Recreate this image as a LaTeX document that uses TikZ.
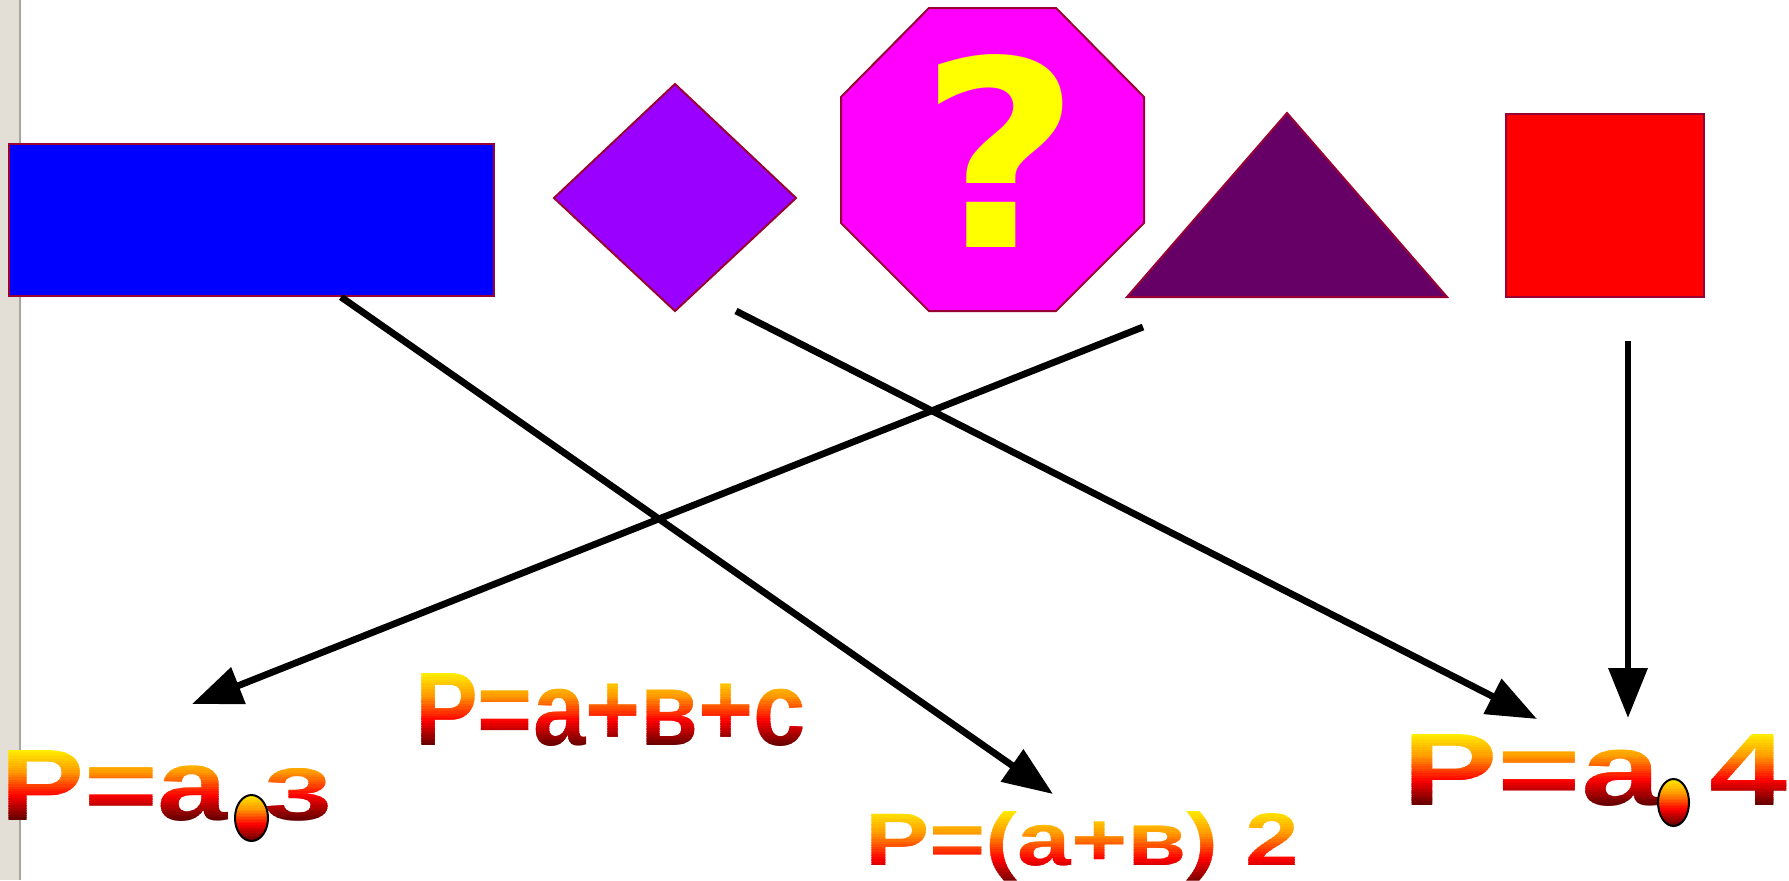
\documentclass[tikz,border=0pt]{standalone}
\usepackage{fontspec}
\usepackage{graphicx}
\newfontfamily\arialfont{Liberation Sans}
\newfontfamily\dvfont{DejaVu Sans}
\usetikzlibrary{arrows.meta}
\definecolor{gyel}{HTML}{FFF200}
\definecolor{gora}{HTML}{FF9900}
\definecolor{gred}{HTML}{FF0000}
\definecolor{gdk}{HTML}{660000}
\definecolor{edgec}{HTML}{990033}
\definecolor{stripc}{HTML}{E3DFD6}
\definecolor{stripl}{HTML}{A9A59D}
\definecolor{rectc}{HTML}{0000FF}
\definecolor{diamc}{HTML}{9900FF}
\definecolor{octc}{HTML}{FF00FF}
\definecolor{tric}{HTML}{660066}
\definecolor{sqc}{HTML}{FF0000}
\definecolor{qc}{HTML}{FFFF00}
\newdimen\pxu \pxu=0.5pt
\newcommand\nbands{30}
\newcommand\gradcolor[1]{%
  \ifdim #1pt<33pt
    \pgfmathtruncatemacro\pp{100-#1/33*100}\colorlet{gc}{gyel!\pp!gora}%
  \else\ifdim #1pt<66pt
    \pgfmathtruncatemacro\pp{100-(#1-33)/33*100}\colorlet{gc}{gora!\pp!gred}%
  \else
    \pgfmathtruncatemacro\pp{100-(#1-66)/34*100}\colorlet{gc}{gred!\pp!gdk}%
  \fi\fi}
\newcommand\gradbands[3]{%
  \foreach \i in {0,...,29}{%
    \pgfmathsetmacro\ya{\i==0 ? #1-200 : #1+(#2-#1)*\i/\nbands-0.3}%
    \pgfmathsetmacro\yb{\i==29 ? #2+200 : #1+(#2-#1)*(\i+1)/\nbands+0.3}%
    \pgfmathsetmacro\gt{(\i+0.5)/\nbands*100}%
    \gradcolor{\gt}%
    \begin{scope}
      \clip (-50,\ya) rectangle (1850,\yb);
      #3
    \end{scope}
  }%
}
\begin{document}
\begin{tikzpicture}[x=0.5pt,y=-0.5pt,
  shp/.style={draw=edgec, line width=1pt, line join=miter},
  arr/.style={line width=3.4pt, -{Triangle[length=25pt,width=19pt]}},
  gtext/.style={anchor=base west, inner sep=0pt, outer sep=0pt, text=gc, font=\arialfont\bfseries},
  dotline/.style={draw=black, line width=1pt}]
\useasboundingbox (0,0) rectangle (1789,880);
\fill[white] (0,0) rectangle (1789,880);
\fill[stripc] (0,0) rectangle (19,880);
\fill[stripl] (19,0) rectangle (21,880);
% shapes
\draw[shp, fill=rectc] (9,144) rectangle (494,296);
\draw[shp, fill=diamc] (675,84) -- (796,198) -- (675,311) -- (554,198) -- cycle;
\draw[shp, fill=octc] (929,8) -- (1056,8) -- (1144,97) -- (1144,223) -- (1056,311) -- (929,311) -- (841,223) -- (841,97) -- cycle;
\node[name=qmark, anchor=base, inner sep=0pt, text=qc, font=\dvfont\bfseries\fontsize{130pt}{130pt}\selectfont] at (1000,247) {\scalebox{1.07}[1]{?}};
\draw[shp, fill=tric] (1287,113) -- (1447,297) -- (1127,297) -- cycle;
\draw[shp, fill=sqc] (1506,114) rectangle (1704,297);
% connector ends
\coordinate (s1) at (341,297);
\coordinate (t1) at (1053,794);
\coordinate (s2) at (736,311);
\coordinate (t2) at (1537,719);
\coordinate (s3) at (1143,327);
\coordinate (t3) at (192,704);
\coordinate (s4) at (1628,341);
\coordinate (t4) at (1628,718);
\draw[arr] (s1) -- (t1);
\draw[arr] (s2) -- (t2);
\draw[arr] (s3) -- (t3);
\draw[arr] (s4) -- (t4);
% formula 1
\gradbands{750}{820}{%
  \node[gtext, name=fa\i] at (0,820) {\resizebox{228\pxu}{70\pxu}{P=a}};
  \node[gtext, name=fb\i] at (264,820) {\resizebox{68\pxu}{52\pxu}{3}};}
\gradbands{795}{841}{\fill[gc] (251.5,818) ellipse [x radius=8.25pt, y radius=11.5pt];}
\draw[dotline] (251.5,818) ellipse [x radius=8.25pt, y radius=11.5pt];
% formula 2
\gradbands{673}{746}{%
  \node[gtext, name=fc\i] at (415,745) {\resizebox{391\pxu}{72\pxu}{P=a+в+c}};}
% formula 3
\gradbands{810}{885}{%
  \node[gtext, name=fd\i] at (865,865) {\resizebox{434\pxu}{54\pxu}{P=(a+в)\ 2}};}
% formula 4
\gradbands{734}{805}{%
  \node[gtext, name=fe\i] at (1402,805) {\resizebox{259\pxu}{71\pxu}{P=a}};
  \node[gtext, name=ff\i] at (1709,805) {\resizebox{78\pxu}{71\pxu}{4}};}
\gradbands{779}{826}{\fill[gc] (1673.5,802.5) ellipse [x radius=7.75pt, y radius=11.75pt];}
\draw[dotline] (1673.5,802.5) ellipse [x radius=7.75pt, y radius=11.75pt];
\end{tikzpicture}
\end{document}
